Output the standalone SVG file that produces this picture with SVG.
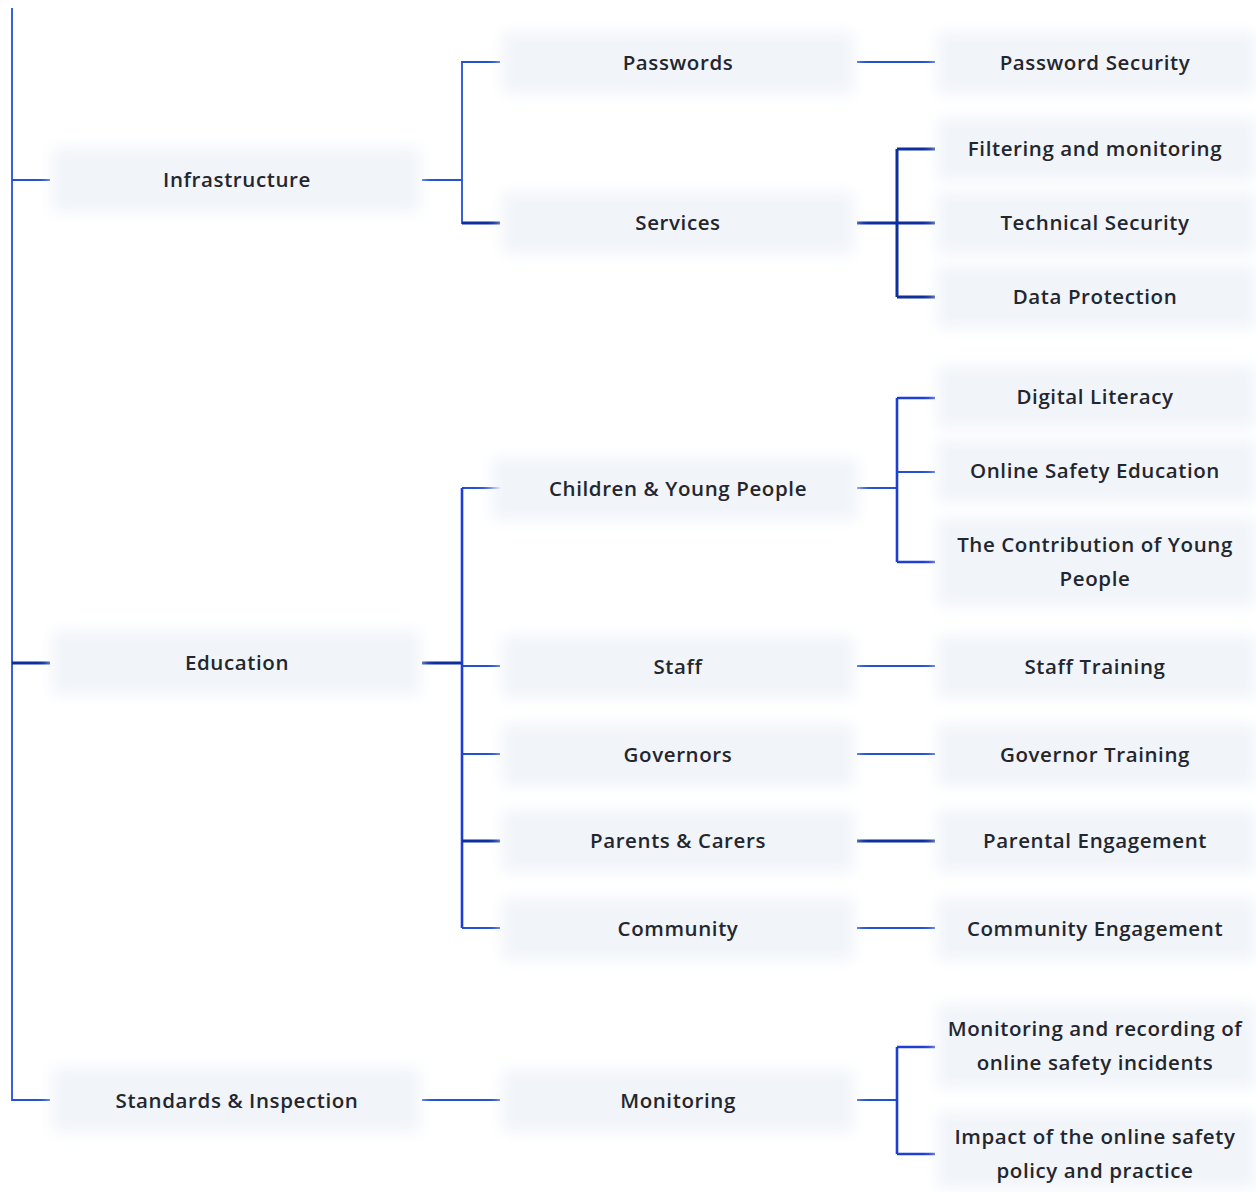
<svg xmlns="http://www.w3.org/2000/svg" width="1256" height="1192" viewBox="0 0 1256 1192">
<defs>
<filter id="soft" x="-10%" y="-50%" width="120%" height="200%"><feGaussianBlur stdDeviation="7"/></filter>
<style>
.bg{fill:#f1f4f9;filter:url(#soft)}
.t{font-family:"Open Sans","Liberation Sans",sans-serif;font-size:20.5px;font-weight:600;letter-spacing:0.6px;fill:#24262e;text-anchor:middle;dominant-baseline:central}
.c{stroke:#2450d8;stroke-width:1.8;fill:none}
.d{stroke:#0c2f9c;stroke-width:3;fill:none}
.b{stroke:#1d3fd6;stroke-width:2.6;fill:none}
</style>
</defs>
<rect width="1256" height="1192" fill="#ffffff"/>
<g id="connectors">
<path class="c" d="M12 8V1100H50"/>
<path class="c" d="M12 180H50"/>
<path class="d" d="M12 663H50"/>
<path class="c" d="M422 180H462"/>
<path class="c" d="M462 224V62H500"/>
<path class="d" d="M462 223H500"/>
<path class="d" d="M422 663H462"/>
<path class="c" d="M462 488H500M462 666H500M462 754H500M462 928H500"/>
<path class="b" d="M462 488V928"/>
<path class="d" d="M462 841H500"/>
<path class="c" d="M422 1100H500"/>
<path class="c" d="M857 62H935"/>
<path class="d" d="M857 223H935M897 149V297M897 149H935M897 297H935"/>
<path class="c" d="M857 488H897M897 472H935"/>
<path class="b" d="M897 398V562M897 398H935M897 562H935"/>
<path class="c" d="M857 666H935M857 754H935M857 928H935"/>
<path class="d" d="M857 841H935"/>
<path class="c" d="M857 1100H897"/>
<path class="b" d="M897 1047V1154M897 1047H935M897 1154H935"/>
</g>
<g id="n-infrastructure"><rect class="bg" x="52" y="148" width="368" height="64"/><text class="t" x="237" y="179">Infrastructure</text></g>
<g id="n-education"><rect class="bg" x="52" y="631" width="368" height="64"/><text class="t" x="237" y="662">Education</text></g>
<g id="n-standards"><rect class="bg" x="52" y="1068" width="368" height="64"/><text class="t" x="237" y="1100">Standards &amp; Inspection</text></g>
<g id="n-passwords"><rect class="bg" x="502" y="32" width="352" height="62"/><text class="t" x="678" y="62">Passwords</text></g>
<g id="n-services"><rect class="bg" x="502" y="192" width="352" height="62"/><text class="t" x="678" y="222">Services</text></g>
<g id="n-children"><rect class="bg" x="492" y="458" width="366" height="62"/><text class="t" x="678" y="488">Children &amp; Young People</text></g>
<g id="n-staff"><rect class="bg" x="502" y="636" width="352" height="62"/><text class="t" x="678" y="666">Staff</text></g>
<g id="n-governors"><rect class="bg" x="502" y="724" width="352" height="62"/><text class="t" x="678" y="754">Governors</text></g>
<g id="n-parents"><rect class="bg" x="502" y="810" width="352" height="62"/><text class="t" x="678" y="840">Parents &amp; Carers</text></g>
<g id="n-community"><rect class="bg" x="502" y="898" width="352" height="62"/><text class="t" x="678" y="928">Community</text></g>
<g id="n-monitoring"><rect class="bg" x="502" y="1070" width="352" height="62"/><text class="t" x="678" y="1100">Monitoring</text></g>
<g id="n-password-security"><rect class="bg" x="937" y="32" width="319" height="62"/><text class="t" x="1095" y="62">Password Security</text></g>
<g id="n-filtering"><rect class="bg" x="937" y="118" width="319" height="62"/><text class="t" x="1095" y="148">Filtering and monitoring</text></g>
<g id="n-technical"><rect class="bg" x="937" y="192" width="319" height="62"/><text class="t" x="1095" y="222">Technical Security</text></g>
<g id="n-data"><rect class="bg" x="937" y="266" width="319" height="62"/><text class="t" x="1095" y="296">Data Protection</text></g>
<g id="n-digital"><rect class="bg" x="937" y="366" width="319" height="62"/><text class="t" x="1095" y="396">Digital Literacy</text></g>
<g id="n-online-safety-ed"><rect class="bg" x="937" y="440" width="319" height="62"/><text class="t" x="1095" y="470">Online Safety Education</text></g>
<g id="n-contribution"><rect class="bg" x="937" y="518" width="319" height="88"/><text class="t" x="1095" y="544">The Contribution of Young</text><text class="t" x="1095" y="578">People</text></g>
<g id="n-staff-training"><rect class="bg" x="937" y="636" width="319" height="62"/><text class="t" x="1095" y="666">Staff Training</text></g>
<g id="n-governor-training"><rect class="bg" x="937" y="724" width="319" height="62"/><text class="t" x="1095" y="754">Governor Training</text></g>
<g id="n-parental"><rect class="bg" x="937" y="810" width="319" height="62"/><text class="t" x="1095" y="840">Parental Engagement</text></g>
<g id="n-community-eng"><rect class="bg" x="937" y="898" width="319" height="62"/><text class="t" x="1095" y="928">Community Engagement</text></g>
<g id="n-recording"><rect class="bg" x="937" y="1004" width="319" height="84"/><text class="t" x="1095" y="1028">Monitoring and recording of</text><text class="t" x="1095" y="1062">online safety incidents</text></g>
<g id="n-impact"><rect class="bg" x="937" y="1112" width="319" height="76"/><text class="t" x="1095" y="1136">Impact of the online safety</text><text class="t" x="1095" y="1170">policy and practice</text></g>
</svg>
